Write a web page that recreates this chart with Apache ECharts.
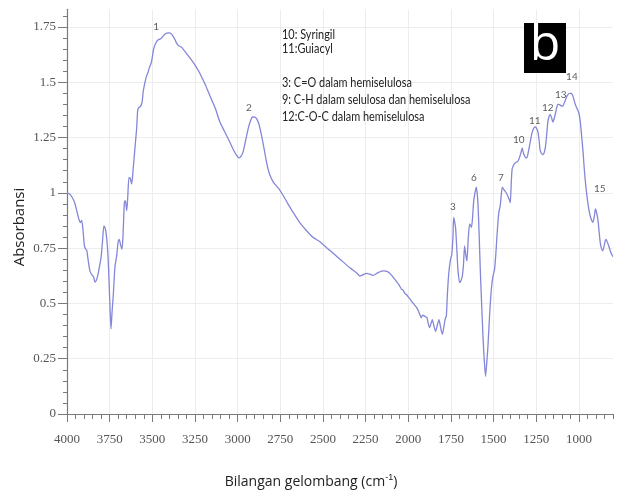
<!DOCTYPE html>
<html><head><meta charset="utf-8">
<script src="https://cdn.jsdelivr.net/npm/echarts@6/dist/echarts.min.js"></script>
<style>html,body{margin:0;padding:0;background:#fff}#c{width:619px;height:493px}</style>
</head><body><div id="c"></div><script>
const wavenumbers = [4000,3985,3970,3955,3943,3930,3922,3914,3906,3898,3890,3884,3875,3865,3852,3844,3836,3828,3820,3810,3800,3792,3784,3776,3768,3760,3754,3748,3742,3736,3729,3719,3709,3700,3694,3686,3678,3672,3664,3658,3650,3644,3637,3629,3621,3612,3602,3592,3586,3580,3570,3560,3553,3543,3533,3525,3518,3510,3504,3497,3491,3478,3465,3455,3446,3430,3416,3400,3390,3378,3365,3358,3345,3328,3300,3270,3245,3221,3190,3163,3130,3104,3075,3046,3025,3006,2991,2978,2968,2955,2938,2925,2912,2900,2889,2875,2860,2845,2831,2815,2792,2760,2733,2705,2675,2640,2597,2560,2520,2460,2400,2340,2300,2284,2265,2245,2225,2206,2180,2160,2148,2130,2110,2090,2070,2055,2040,2030,2020,2011,2000,1990,1982,1970,1960,1950,1943,1935,1924,1917,1910,1900,1891,1883,1875,1866,1859,1850,1840,1830,1820,1810,1800,1790,1782,1777,1770,1762,1752,1745,1738,1734,1728,1722,1715,1709,1699,1690,1683,1676,1670,1663,1656,1648,1640,1633,1629,1622,1617,1609,1601,1595,1590,1584,1578,1570,1562,1555,1547,1540,1533,1523,1513,1504,1494,1487,1480,1474,1469,1461,1455,1449,1440,1430,1422,1416,1408,1402,1396,1391,1383,1377,1368,1358,1348,1340,1332,1325,1319,1312,1305,1295,1285,1278,1270,1262,1254,1247,1240,1232,1227,1219,1211,1204,1196,1189,1182,1175,1168,1160,1153,1145,1137,1130,1124,1117,1110,1102,1094,1087,1079,1068,1055,1047,1039,1030,1020,1010,1000,993,986,976,967,958,948,938,928,918,910,903,896,889,882,875,868,860,852,845,840,832,825,815,805,800];
const absorbance = [1.00,0.995,0.98,0.955,0.92,0.88,0.865,0.875,0.83,0.76,0.745,0.74,0.69,0.645,0.627,0.62,0.596,0.605,0.625,0.665,0.71,0.78,0.85,0.84,0.80,0.72,0.61,0.48,0.385,0.46,0.535,0.665,0.715,0.78,0.79,0.765,0.745,0.80,0.955,0.965,0.92,0.98,1.07,1.065,1.04,1.11,1.20,1.29,1.37,1.385,1.39,1.41,1.46,1.50,1.53,1.545,1.565,1.58,1.595,1.63,1.655,1.68,1.692,1.695,1.70,1.715,1.722,1.723,1.72,1.708,1.69,1.677,1.665,1.658,1.63,1.60,1.572,1.54,1.49,1.44,1.38,1.32,1.275,1.23,1.195,1.17,1.158,1.168,1.185,1.23,1.29,1.325,1.343,1.342,1.336,1.31,1.26,1.20,1.14,1.09,1.05,1.02,0.988,0.95,0.912,0.87,0.83,0.80,0.78,0.74,0.70,0.66,0.637,0.624,0.63,0.636,0.632,0.627,0.638,0.645,0.647,0.646,0.638,0.62,0.60,0.585,0.565,0.56,0.545,0.54,0.53,0.52,0.51,0.50,0.49,0.48,0.47,0.455,0.435,0.447,0.445,0.44,0.437,0.41,0.39,0.41,0.427,0.40,0.374,0.40,0.427,0.39,0.36,0.40,0.435,0.44,0.55,0.64,0.70,0.72,0.80,0.889,0.87,0.836,0.74,0.655,0.594,0.605,0.624,0.68,0.76,0.72,0.692,0.80,0.86,0.85,0.844,0.90,0.958,1.00,1.026,0.99,0.927,0.80,0.655,0.50,0.35,0.25,0.17,0.23,0.306,0.45,0.564,0.62,0.655,0.72,0.806,0.87,0.912,0.942,0.99,1.026,1.015,1.005,0.995,0.985,0.97,0.955,1.05,1.109,1.125,1.132,1.138,1.142,1.16,1.18,1.203,1.18,1.168,1.16,1.158,1.19,1.23,1.26,1.283,1.295,1.298,1.29,1.276,1.23,1.192,1.178,1.173,1.18,1.208,1.26,1.32,1.345,1.355,1.34,1.32,1.335,1.36,1.385,1.40,1.40,1.397,1.393,1.392,1.405,1.42,1.44,1.45,1.45,1.445,1.425,1.397,1.38,1.36,1.33,1.276,1.19,1.094,1.02,0.958,0.91,0.882,0.867,0.89,0.927,0.91,0.882,0.83,0.776,0.75,0.738,0.76,0.785,0.79,0.775,0.76,0.735,0.718,0.712];
const xTicks = [4000,3750,3500,3250,3000,2750,2500,2250,2000,1750,1500,1250,1000];
const xMinorTicks = [4000,3950,3900,3850,3800,3750,3700,3650,3600,3550,3500,3450,3400,3350,3300,3250,3200,3150,3100,3050,3000,2950,2900,2850,2800,2750,2700,2650,2600,2550,2500,2450,2400,2350,2300,2250,2200,2150,2100,2050,2000,1950,1900,1850,1800,1750,1700,1650,1600,1550,1500,1450,1400,1350,1300,1250,1200,1150,1100,1050,1000,950,900,850,800];
const yTicks = [0,0.25,0.5,0.75,1,1.25,1.5,1.75];
const yMinorTicks = [0,0.05,0.1,0.15,0.2,0.25,0.3,0.35,0.4,0.45,0.5,0.55,0.6,0.65,0.7,0.75,0.8,0.85,0.9,0.95,1,1.05,1.1,1.15,1.2,1.25,1.3,1.35,1.4,1.45,1.5,1.55,1.6,1.65,1.7,1.75,1.8];
const peakLabels = ['1','2','3','6','7','10','11','12','13','14','15'];
const peakX = [3478,2934,1738,1615,1457,1352,1258,1182,1106,1041,877];
const peakY = [1.75,1.384,0.936,1.067,1.067,1.239,1.325,1.384,1.443,1.524,1.018];
const noteLines = ['10: Syringil','11:Guiacyl','3: C=O dalam hemiselulosa','9: C-H dalam selulosa dan hemiselulosa','12:C-O-C dalam hemiselulosa'];
const noteY = [35,49,83,100,117];

const chart = echarts.init(document.getElementById('c'), null, {renderer:'canvas'});
const axisGrey = '#7a7a7a';
const tickFont = {fontFamily:'Liberation Sans Narrow', fontSize:13, color:'#555', formatter:v=>String(v)};
const graphics = [
  {type:'text', z:100, x:20, y:227, rotation:Math.PI/2, style:{text:'Absorbansi', font:'15px "Open Sans"', fill:'#222', align:'center', verticalAlign:'middle'}},
  {type:'text', z:100, x:311, y:482, style:{text:'Bilangan gelombang (cm{s|-1})', rich:{s:{fontSize:9, verticalAlign:'top', padding:[0,0,8,0]}}, font:'14px "Open Sans"', fill:'#222', align:'center', verticalAlign:'middle'}},
  {type:'rect', z:100, shape:{x:524, y:23, width:42, height:50}, style:{fill:'#000'}},
  {type:'text', z:101, x:545, y:46, style:{text:'b', font:'50px "Open Sans"', fill:'#fff', align:'center', verticalAlign:'middle'}}
];
noteLines.forEach((t,i)=>{
  graphics.push({type:'text', z:100, x:282, y:noteY[i], scaleX:0.84, style:{text:t, font:'13px Lato', fill:'#222', align:'left', verticalAlign:'middle'}});
});

chart.setOption({
  animation:false,
  backgroundColor:'#fff',
  grid:{left:67, right:6, top:9.3, bottom:79, containLabel:false},
  xAxis:[
    {type:'value', inverse:true, min:800, max:4000,
     axisLine:{show:true, lineStyle:{color:axisGrey, width:1.2}},
     axisTick:{show:true, customValues:xTicks, length:8, lineStyle:{color:axisGrey}},
     axisLabel:Object.assign({customValues:xTicks, margin:19}, tickFont),
     splitLine:{show:true, lineStyle:{color:'#ededed', width:1}}},
    {type:'value', inverse:true, min:800, max:4000, position:'bottom', gridIndex:0,
     axisLine:{show:false}, axisTick:{show:true, customValues:xMinorTicks, length:5, lineStyle:{color:axisGrey}},
     axisLabel:{show:false}, splitLine:{show:false}}
  ],
  yAxis:[
    {type:'value', min:0, max:1.83,
     axisLine:{show:true, lineStyle:{color:axisGrey, width:1.2}},
     axisTick:{show:true, customValues:yTicks, length:9, lineStyle:{color:axisGrey}},
     axisLabel:Object.assign({customValues:yTicks, margin:11}, tickFont),
     splitLine:{show:true, lineStyle:{color:'#ededed', width:1}}},
    {type:'value', min:0, max:1.83, position:'left', gridIndex:0,
     axisLine:{show:false}, axisTick:{show:true, customValues:yMinorTicks, length:4, lineStyle:{color:axisGrey}},
     axisLabel:{show:false}, splitLine:{show:false}}
  ],
  series:[
    {type:'line', xAxisIndex:0, yAxisIndex:0, data:wavenumbers.map((w,i)=>[w, absorbance[i]]),
     showSymbol:false, smooth:0.2, lineStyle:{color:'#8486d8', width:1.3}, z:3},
    {type:'scatter', xAxisIndex:0, yAxisIndex:0, data:peakX.map((w,i)=>[w, peakY[i]]),
     symbolSize:0, silent:true, z:5,
     label:{show:true, position:'inside', formatter:p=>peakLabels[p.dataIndex], fontFamily:'Lato', fontSize:10, color:'#333'}}
  ],
  graphic:graphics
});
</script></body></html>
